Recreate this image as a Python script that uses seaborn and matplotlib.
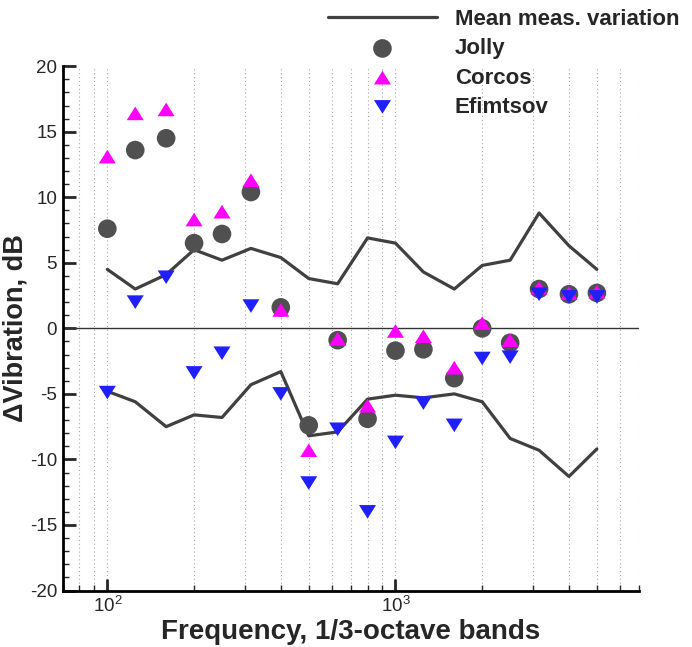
"""
Vibration difference vs. 1/3-octave band, with model predictions
"""
import matplotlib
matplotlib.use('Agg')
import matplotlib.pyplot as plt
from matplotlib.ticker import MultipleLocator, NullFormatter, LogLocator
import seaborn as sns

freq = [100, 125, 160, 200, 250, 315, 400, 500, 630, 800, 1000, 1250, 1600,
        2000, 2500, 3150, 4000, 5000]
jolly = [7.6, 13.6, 14.5, 6.5, 7.2, 10.4, 1.6, -7.4, -0.9, -6.9, -1.7, -1.6,
         -3.8, 0.0, -1.1, 3.0, 2.6, 2.7]
corcos = [13.1, 16.4, 16.7, 8.3, 8.9, 11.3, 1.4, -9.3, -0.8, -5.9, -0.2, -0.6,
          -3.0, 0.4, -0.9, 3.1, 2.7, 2.8]
efimtsov = [-4.9, 2.0, 3.9, -3.4, -1.9, 1.7, -5.0, -11.8, -7.7, -14.0, -8.7,
            -5.7, -7.4, -2.3, -2.2, 2.6, 2.4, 2.4]
mean_upper = [4.5, 3.0, 4.1, 6.0, 5.2, 6.1, 5.4, 3.8, 3.4, 6.9, 6.5, 4.3, 3.0,
              4.8, 5.2, 8.8, 6.3, 4.5]
mean_lower = [-4.8, -5.6, -7.5, -6.6, -6.8, -4.3, -3.3, -8.2, -7.9, -5.4, -5.1,
              -5.3, -5.0, -5.6, -8.4, -9.3, -11.3, -9.2]

sns.set_theme(style='ticks')
plt.rcParams['font.family'] = ['Liberation Sans', 'DejaVu Sans']
plt.rcParams['axes.unicode_minus'] = False

# triangles a bit flatter than matplotlib's default
tri_up = [(-1, -0.8), (1, -0.8), (0, 0.8)]
tri_down = [(-1, 0.8), (1, 0.8), (0, -0.8)]

fig = plt.figure(figsize=(6.92, 6.47), dpi=100)
ax = fig.add_axes([0.0906, 0.0873, 0.8328, 0.8104])

line_col = '#404040'
sns.lineplot(x=freq, y=mean_upper, color=line_col, lw=2.3,
             label='Mean meas. variation', ax=ax)
sns.lineplot(x=freq, y=mean_lower, color=line_col, lw=2.3, ax=ax)
sns.scatterplot(x=freq, y=jolly, marker='o', s=180, color='#505050',
                edgecolor='none', label='Jolly', ax=ax, zorder=3)
sns.scatterplot(x=freq, y=corcos, marker=tri_up, s=150, color='#ff00ff',
                edgecolor='none', label='Corcos', ax=ax, zorder=4)
sns.scatterplot(x=freq, y=efimtsov, marker=tri_down, s=150, color='#2020ff',
                edgecolor='none', label='Efimtsov', ax=ax, zorder=5)

ax.axhline(0, color='#333333', lw=1.0, zorder=1)

ax.set_xscale('log')
ax.set_xlim(70, 7000)
ax.set_ylim(-20, 20)
ax.xaxis.set_major_locator(LogLocator(base=10))
ax.xaxis.set_minor_locator(LogLocator(base=10, subs=range(2, 10)))
ax.xaxis.set_minor_formatter(NullFormatter())
ax.yaxis.set_major_locator(MultipleLocator(5))
ax.yaxis.set_minor_locator(MultipleLocator(1))
ax.grid(True, which='both', axis='x', linestyle=(0, (1, 2.5)),
        color='#aaaaaa', lw=0.8)

ax.tick_params(axis='both', which='major', direction='in', length=9,
               width=2.0, labelsize=13.5, pad=4)
ax.tick_params(axis='both', which='minor', direction='in', length=4.5,
               width=1.0)
for side in ['top', 'right']:
    ax.spines[side].set_visible(False)
for side in ['left', 'bottom']:
    ax.spines[side].set_linewidth(2.0)
    ax.spines[side].set_color('black')

ax.set_xlabel('Frequency, 1/3-octave bands', fontsize=20, fontweight='bold',
              labelpad=2)
ax.set_ylabel('\u0394Vibration, dB', fontsize=19.5, fontweight='bold',
              labelpad=1)

ax.get_legend().remove()
handles, labels = ax.get_legend_handles_labels()
fig.legend(handles, labels, loc='upper left', bbox_to_anchor=(0.474, 0.986),
           frameon=False, prop={'weight': 'bold', 'size': 16},
           handlelength=4.9, handletextpad=0.8, labelspacing=0.37,
           borderpad=0, borderaxespad=0)

plt.savefig('out.png', dpi=100)
